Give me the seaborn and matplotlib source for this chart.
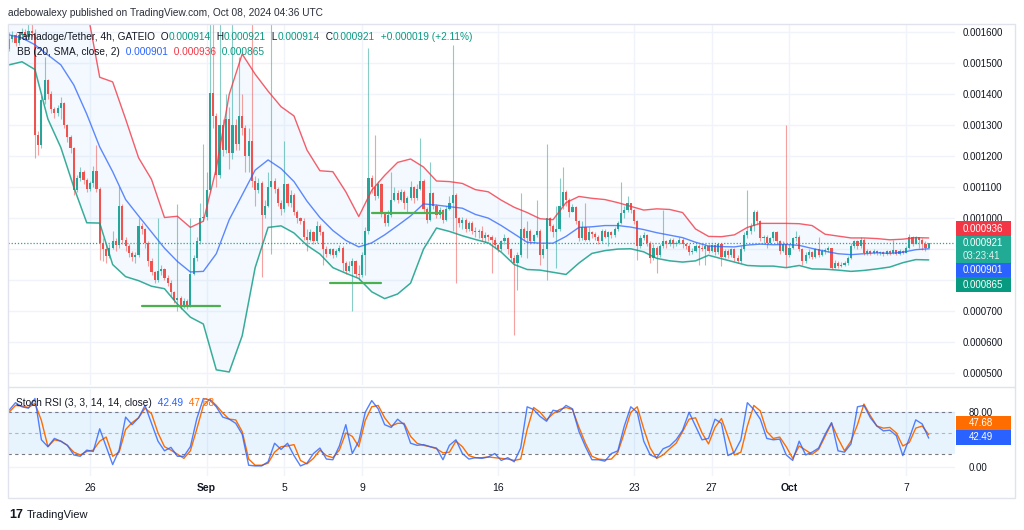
import numpy as np
import pandas as pd
import matplotlib
matplotlib.use("Agg")
import matplotlib.pyplot as plt
import matplotlib.dates as mdates
from matplotlib.patches import Rectangle
from matplotlib.lines import Line2D
from matplotlib.text import Annotation
import seaborn as sns

# Tamadoge/Tether 4h candles, prices in millionths of USDT (1e-6)
first_open = 1545
close = [
    1580, 1592, 1565, 1590, 1602, 1585, 1605, 1598, 1270, 1236,   # 0
    1380, 1445, 1400, 1352, 1338, 1356, 1372, 1300, 1262, 1225,   # 10
    1090, 1128, 1150, 1122, 1095, 1112, 1152, 1095, 920, 900,     # 20
    878, 905, 925, 912, 1040, 930, 910, 888, 876, 880,            # 30
    975, 965, 920, 860, 825, 800, 830, 835, 808, 790,             # 40
    760, 735, 742, 715, 732, 718, 820, 870, 925, 1000,            # 50
    1005, 1090, 1405, 1330, 1140, 1300, 1220, 1320, 1210, 1300,   # 60
    1240, 1330, 1290, 1200, 1250, 1120, 1090, 1115, 1010, 1040,   # 70
    1100, 1120, 1095, 1050, 1030, 1110, 1050, 1075, 1020, 1000,   # 80
    990, 940, 930, 955, 925, 975, 955, 900, 885, 900,             # 90
    880, 895, 905, 855, 830, 845, 860, 820, 815, 880,             # 100
    960, 1130, 1100, 1070, 1110, 1015, 985, 1010, 1060, 1080,     # 110
    1060, 1085, 1050, 1065, 1100, 1065, 1095, 1120, 1030, 995,    # 120
    1080, 1040, 1010, 1025, 995, 1030, 1050, 1075, 1000, 985,     # 130
    995, 965, 985, 960, 955, 960, 935, 945, 940, 930,             # 140
    912, 900, 925, 935, 900, 872, 855, 880, 965, 935,             # 150
    960, 925, 945, 960, 880, 900, 1000, 975, 955, 965,            # 160
    1040, 1085, 1060, 1020, 1035, 990, 935, 970, 930, 955,        # 170
    950, 940, 925, 960, 940, 955, 945, 965, 985, 1015,            # 180
    1025, 1048, 1025, 990, 910, 935, 945, 920, 870, 905,          # 190
    880, 910, 925, 915, 930, 915, 920, 930, 915, 910,             # 200
    890, 895, 910, 905, 900, 910, 895, 912, 890, 915,             # 210
    875, 895, 880, 900, 870, 862, 900, 945, 960, 975,             # 220
    1020, 990, 935, 940, 920, 935, 955, 925, 895, 915,            # 230
    880, 905, 935, 940, 900, 860, 880, 890, 875, 900,             # 240
    880, 893, 898, 902, 840, 855, 845, 850, 856, 870,             # 250
    910, 925, 910, 930, 888, 895, 888, 895, 886, 890,             # 260
    884, 893, 886, 896, 885, 895, 888, 905, 940, 918,             # 270
    938, 928, 915, 902, 921,                                      # 280
]
high = [
    1600, 1605, 1598, 1600, 1615, 1610, 1640, 1640, 1610, 1280,
    1395, 1520, 1450, 1410, 1360, 1365, 1390, 1375, 1305, 1270,
    1230, 1140, 1165, 1155, 1130, 1120, 1168, 1235, 1100, 935,
    915, 918, 960, 935, 1100, 1045, 940, 918, 895, 892,
    1002, 985, 968, 925, 870, 830, 1000, 850, 840, 815,
    800, 765, 1045, 748, 742, 738, 1000, 880, 940, 1050,
    1240, 1150, 1640, 1640, 1340, 1640, 1320, 1400, 1360, 1640,
    1320, 1520, 1400, 1300, 1290, 1640, 1135, 1130, 1120, 1060,
    1150, 1640, 1130, 1100, 1060, 1250, 1115, 1090, 1080, 1025,
    1005, 1000, 965, 965, 960, 990, 980, 960, 910, 905,
    905, 900, 912, 910, 860, 860, 870, 865, 850, 890,
    970, 1550, 1140, 1270, 1120, 1115, 1020, 1025, 1150, 1100,
    1090, 1095, 1090, 1070, 1120, 1105, 1110, 1260, 1125, 1035,
    1180, 1085, 1045, 1035, 1030, 1040, 1070, 1560, 1080, 1005,
    1005, 1000, 990, 990, 970, 965, 975, 955, 950, 945,
    940, 918, 930, 950, 940, 905, 880, 890, 1080, 970,
    990, 965, 950, 1060, 965, 915, 1240, 1005, 980, 1040,
    1128, 1166, 1090, 1065, 1045, 1040, 995, 990, 1050, 970,
    960, 955, 945, 965, 965, 960, 960, 970, 990, 1118,
    1040, 1070, 1050, 1030, 995, 945, 955, 950, 925, 915,
    910, 915, 1025, 930, 935, 935, 925, 938, 935, 920,
    915, 905, 915, 915, 915, 915, 915, 918, 915, 920,
    920, 900, 900, 905, 905, 880, 910, 955, 1090, 985,
    1025, 1025, 995, 945, 945, 940, 960, 960, 930, 925,
    1300, 915, 940, 960, 945, 905, 890, 900, 895, 905,
    940, 900, 905, 910, 905, 865, 860, 858, 862, 878,
    920, 930, 930, 940, 935, 900, 898, 900, 898, 895,
    893, 898, 896, 930, 898, 900, 898, 910, 950, 942,
    942, 940, 935, 925, 921,
]
low = [
    1540, 1570, 1555, 1560, 1585, 1575, 1580, 1585, 1195, 1205,
    1225, 1370, 1385, 1340, 1325, 1330, 1320, 1290, 1245, 1210,
    1075, 1085, 1120, 1110, 1085, 1088, 1100, 1085, 865, 860,
    855, 870, 900, 895, 905, 918, 895, 875, 860, 855,
    875, 950, 905, 845, 815, 790, 795, 815, 800, 780,
    750, 725, 700, 705, 710, 705, 712, 815, 860, 915,
    990, 995, 1085, 1290, 1100, 1130, 1200, 1210, 1160, 1190,
    1220, 1220, 1270, 1150, 1150, 1100, 1040, 1080, 810, 1000,
    1035, 885, 1080, 1040, 1010, 1020, 1040, 1035, 1010, 985,
    980, 930, 895, 925, 915, 920, 945, 850, 875, 880,
    870, 875, 890, 830, 820, 825, 700, 810, 800, 810,
    815, 950, 1080, 1060, 1065, 1005, 975, 975, 1005, 1055,
    1050, 1055, 1030, 1020, 1060, 1050, 1060, 1090, 1020, 985,
    990, 1030, 1000, 1000, 985, 990, 1025, 960, 790, 970,
    965, 955, 960, 950, 940, 935, 925, 920, 925, 822,
    905, 890, 895, 915, 885, 860, 622, 768, 875, 925,
    870, 915, 920, 940, 850, 870, 800, 960, 940, 840,
    960, 1030, 1040, 1005, 1020, 980, 925, 930, 925, 925,
    935, 930, 915, 920, 935, 910, 935, 940, 960, 980,
    1000, 1020, 1015, 980, 865, 905, 930, 910, 855, 865,
    822, 875, 905, 905, 910, 905, 910, 915, 905, 900,
    880, 885, 890, 848, 895, 850, 888, 890, 880, 885,
    845, 870, 870, 875, 860, 855, 855, 895, 935, 950,
    960, 980, 925, 920, 905, 915, 925, 915, 885, 890,
    843, 875, 900, 925, 895, 850, 855, 870, 868, 870,
    875, 878, 885, 890, 835, 838, 838, 842, 845, 850,
    868, 905, 900, 905, 880, 880, 882, 885, 880, 882,
    878, 880, 880, 883, 880, 882, 884, 886, 900, 910,
    915, 905, 898, 895, 900,
]

# Bollinger bands (20, SMA, close, 2), read every 4th candle
bb_step = 4
bb_upper = [1780, 1800, 1790, 1760, 1730, 1700, 1680, 1455, 1440, 1320,
            1195, 1125, 1002, 1006, 970, 990, 1160, 1400, 1530, 1465,
            1410, 1360, 1330, 1220, 1153, 1150, 1085, 1005, 1090, 1138,
            1180, 1191, 1165, 1120, 1118, 1112, 1092, 1085, 1058, 1035,
            1018, 998, 995, 1050, 1070, 1064, 1060, 1050, 1038, 1026,
            1030, 1028, 1018, 965, 941, 940, 946, 970, 983, 983,
            983, 982, 976, 948, 942, 936, 936, 934, 930, 932,
            937, 936]
bb_mid = [1592, 1582, 1560, 1527, 1495, 1430, 1336, 1230, 1150, 1060,
          1007, 955, 903, 860, 826, 828, 885, 995, 1075, 1155,
          1188, 1160, 1118, 1055, 1002, 960, 928, 907, 920, 946,
          976, 1007, 1046, 1042, 1037, 1032, 1012, 1000, 976, 949,
          922, 919, 919, 941, 970, 972, 976, 976, 971, 963,
          953, 945, 937, 922, 910, 908, 907, 913, 916, 914,
          915, 912, 902, 893, 885, 882, 885, 888, 886, 890,
          898, 901]
bb_lower = [1495, 1505, 1480, 1320, 1228, 1100, 985, 984, 850, 811,
            798, 780, 772, 722, 680, 658, 510, 503, 620, 840,
            970, 975, 952, 912, 884, 840, 822, 805, 762, 740,
            755, 790, 900, 968, 957, 943, 931, 920, 890, 850,
            834, 832, 825, 818, 855, 886, 895, 900, 901, 891,
            870, 862, 858, 862, 880, 869, 858, 847, 845, 845,
            840, 847, 836, 835, 832, 828, 831, 836, 842, 856,
            866, 865]

# Stoch RSI (3, 3, 14, 14, close), read every 2nd candle
st_step = 2
stoch_k = [83, 94, 88, 86, 100, 40, 30, 42, 38, 32,
           18, 16, 25, 23, 56, 30, 4, 25, 73, 62,
           72, 90, 64, 38, 24, 29, 16, 16, 30, 71,
           100, 98, 88, 73, 70, 64, 48, 3, 2, 2,
           8, 35, 26, 35, 17, 2, 6, 20, 28, 12,
           11, 31, 62, 20, 38, 80, 97, 85, 62, 58,
           70, 62, 35, 32, 33, 30, 28, 11, 32, 40,
           20, 12, 14, 13, 15, 20, 10, 14, 8, 28,
           88, 84, 74, 67, 83, 81, 90, 85, 52, 30,
           11, 11, 9, 20, 24, 60, 88, 80, 38, 18,
           14, 27, 31, 40, 54, 80, 60, 40, 42, 70,
           64, 17, 22, 40, 94, 84, 70, 42, 40, 41,
           18, 10, 38, 18, 22, 28, 48, 65, 24, 22,
           34, 88, 90, 72, 60, 53, 54, 46, 17, 42,
           69, 63, 42.49]
stoch_d = [80, 90, 89, 87, 93, 68, 30, 40, 38, 32,
           22, 18, 23, 25, 38, 44, 16, 22, 55, 65,
           72, 86, 78, 50, 30, 25, 19, 13, 24, 56,
           90, 99, 90, 79, 70, 69, 52, 12, 3, 3,
           6, 22, 30, 31, 33, 10, 5, 13, 25, 17,
           14, 25, 50, 45, 30, 68, 88, 90, 72, 60,
           64, 64, 45, 35, 32, 30, 27, 21, 22, 38,
           30, 17, 14, 14, 15, 14, 13, 12, 10, 12,
           55, 87, 80, 69, 78, 84, 87, 84, 58, 35,
           16, 12, 11, 12, 22, 50, 80, 88, 56, 28,
           13, 18, 27, 35, 52, 70, 72, 50, 34, 58,
           71, 45, 18, 22, 60, 90, 82, 52, 42, 44,
           30, 13, 31, 25, 19, 26, 45, 64, 42, 24,
           38, 62, 92, 75, 60, 57, 58, 50, 31, 36,
           57, 60, 47.68]

# hand-drawn support lines
sup_start = ["2024-08-28 16:00", "2024-09-07 08:00", "2024-09-09 12:00"]
sup_end = ["2024-09-01 16:00", "2024-09-10 00:00", "2024-09-13 04:00"]
sup_level = [715, 789, 1016]

tick_dates = ["2024-08-26", "2024-09-01", "2024-09-05", "2024-09-09", "2024-09-16",
              "2024-09-23", "2024-09-27", "2024-10-01", "2024-10-07"]
tick_labels = ["26", "Sep", "5", "9", "16", "23", "27", "Oct", "7"]
price_ticks = list(range(500, 1601, 100))
covered_ticks = [800, 900]  # hidden behind the price tags

UP, DOWN = "#26a69a", "#ef5350"
DARK = "#131722"
TEAL, RED, BLUE, ORANGE = "#089981", "#f23645", "#2962ff", "#ff6d00"

sns.set_theme(style="white")
plt.rcParams["font.family"] = ["Liberation Sans", "DejaVu Sans"]

W, H = 1024, 530
fig = plt.figure(figsize=(W / 100, H / 100), dpi=100)
fig.patch.set_facecolor("white")


def fx(px):
    return px / W


def fy(py):
    return 1 - py / H


ax = fig.add_axes([fx(8), fy(385), (955 - 8) / W, (385 - 24) / H])
ax2 = fig.add_axes([fx(8), fy(476), (955 - 8) / W, (476 - 389) / H])

close = np.array(close, float)
high = np.array(high, float)
low = np.array(low, float)
opens = np.r_[first_open, close[:-1]]
times = pd.date_range("2024-08-21 20:00", periods=len(close), freq="4h")
tnum = mdates.date2num(times)
x0 = mdates.date2num(pd.Timestamp("2024-08-26"))
xlim = (x0 - 4.22, x0 + 44.52)
ticks = mdates.date2num(pd.to_datetime(tick_dates))

# ---- price pane
bb = pd.DataFrame({"t": tnum[::bb_step], "upper": bb_upper, "mid": bb_mid, "lower": bb_lower})
ax.fill_between(bb["t"], bb["lower"], bb["upper"], color="#2196f3", alpha=0.05, lw=0, zorder=1)

up = close >= opens
cols = np.where(up, UP, DOWN)
ax.vlines(tnum, low, high, colors=cols, lw=0.8, alpha=0.55, zorder=2)
body_lo = np.minimum(opens, close)
body_h = np.maximum(np.abs(close - opens), 2.5)
ax.bar(tnum, body_h, bottom=body_lo, width=0.11, color=cols, lw=0, zorder=2.2)

sns.lineplot(data=bb, x="t", y="upper", ax=ax, color=RED, lw=1, alpha=0.8, zorder=3)
sns.lineplot(data=bb, x="t", y="mid", ax=ax, color=BLUE, lw=1, alpha=0.75, zorder=3)
sns.lineplot(data=bb, x="t", y="lower", ax=ax, color=TEAL, lw=1.1, alpha=0.8, zorder=3)

for s, e, lvl in zip(sup_start, sup_end, sup_level):
    ax.plot(mdates.date2num(pd.to_datetime([s, e])), [lvl, lvl], color="#4caf50", lw=1.6, zorder=4)

ax.axhline(close[-1], color=UP, lw=0.9, ls=(0, (1, 1.5)), zorder=3)

ax.set_xlim(xlim)
ax.set_ylim(461, 1627)
ax.set_xticks(ticks)
ax.set_yticks(price_ticks)
ax.set_yticklabels(["" if v in covered_ticks else f"{v / 1e6:.6f}" for v in price_ticks])
ax.yaxis.tick_right()
ax.tick_params(axis="y", length=0, pad=5.8, labelsize=7, labelcolor=DARK)
ax.tick_params(axis="x", length=0, labelbottom=False)
ax.grid(True, color="#f0f3fa", lw=1)
ax.set_axisbelow(True)
ax.set_xlabel("")
ax.set_ylabel("")
for sp in ax.spines.values():
    sp.set_visible(False)

# ---- stoch RSI pane
st = pd.DataFrame({"t": tnum[::st_step], "k": stoch_k, "d": stoch_d})
ax2.axhspan(20, 80, color="#2196f3", alpha=0.1, lw=0, zorder=1)
for lvl, a in [(80, 1), (50, 0.5), (20, 1)]:
    ax2.axhline(lvl, color="#787b86", lw=0.8, ls=(0, (3, 3)), alpha=a, zorder=2)
sns.lineplot(data=st, x="t", y="d", ax=ax2, color=ORANGE, lw=1, zorder=3)
sns.lineplot(data=st, x="t", y="k", ax=ax2, color=BLUE, lw=1, alpha=0.8, zorder=3)
ax2.set_xlim(xlim)
ax2.set_ylim(-12.65, 113.9)
ax2.set_yticks([0, 80])
ax2.set_yticklabels(["0.00", "80.00"])
ax2.yaxis.tick_right()
ax2.tick_params(axis="y", length=0, pad=9.5, labelsize=7, labelcolor=DARK)
ax2.set_xticks(ticks)
ax2.set_xticklabels(tick_labels)
ax2.tick_params(axis="x", length=0, pad=5, labelsize=7.5, labelcolor=DARK)
for lbl in ax2.get_xticklabels():
    if lbl.get_text() in ("Sep", "Oct"):
        lbl.set_fontweight("bold")
ax2.grid(True, color="#f0f3fa", lw=1)
ax2.set_axisbelow(True)
ax2.set_xlabel("")
ax2.set_ylabel("")
for sp in ax2.spines.values():
    sp.set_visible(False)

# ---- frame
fig.add_artist(Rectangle((fx(8), fy(498)), 1007 / W, 474 / H, fill=False,
                         ec="#e0e3eb", lw=1, transform=fig.transFigure))
fig.add_artist(Line2D([fx(8), fx(1015)], [fy(386.5), fy(386.5)], color="#e0e3eb", lw=1,
                      transform=fig.transFigure))


def chain(x_px, y_px, parts, size):
    # write coloured pieces one after another on one line, on top of the panes
    prev = fig.text(fx(x_px), fy(y_px), parts[0][0], color=parts[0][1], fontsize=size,
                    ha="left", va="center", zorder=8)
    for s, c in parts[1:]:
        prev = fig.add_artist(Annotation(s, xy=(1, 0), xycoords=prev, color=c, fontsize=size,
                                         ha="left", va="bottom", annotation_clip=False))
        prev.set_zorder(8)


fig.text(fx(8), fy(13), "adebowalexy published on TradingView.com, Oct 08, 2024 04:36 UTC",
         fontsize=7.3, color="#2a2e39", ha="left", va="center")

chain(17, 37, [("Tamadoge/Tether, 4h, GATEIO", DARK), ("  O", DARK), ("0.000914", TEAL),
               ("  H", DARK), ("0.000921", TEAL), ("  L", DARK), ("0.000914", TEAL),
               ("  C", DARK), ("0.000921", TEAL), ("  +0.000019 (+2.11%)", TEAL)], 7.3)
chain(17, 52, [("BB (20, SMA, close, 2)", DARK), (f"  {bb_mid[-1] / 1e6:.6f}", BLUE),
               (f"  {bb_upper[-1] / 1e6:.6f}", RED), (f"  {bb_lower[-1] / 1e6:.6f}", TEAL)], 7.3)
chain(16, 403, [("Stoch RSI (3, 3, 14, 14, close)", DARK), (f"  {stoch_k[-1]:.2f}", BLUE),
                (f"  {stoch_d[-1]:.2f}", ORANGE)], 7.3)


def tag(top, bottom, color, lines, x_text=963):
    fig.add_artist(Rectangle((fx(956), fy(bottom)), 55 / W, (bottom - top) / H,
                             fc=color, ec="none", transform=fig.transFigure, zorder=5))
    step = (bottom - top) / len(lines)
    for j, (s, c) in enumerate(lines):
        fig.text(fx(x_text), fy(top + step * (j + 0.5)), s, color=c, fontsize=7,
                 ha="left", va="center", zorder=6)


tag(221, 236, RED, [(f"{bb_upper[-1] / 1e6:.6f}", "white")])
tag(236, 263, "#22ab94", [(f"{close[-1] / 1e6:.6f}", "white"), ("03:23:41", "#e0f2ef")])
tag(263, 277, BLUE, [(f"{bb_mid[-1] / 1e6:.6f}", "white")])
tag(277, 292, TEAL, [(f"{bb_lower[-1] / 1e6:.6f}", "white")])
tag(416, 430, ORANGE, [(f"{stoch_d[-1]:.2f}", "white")], x_text=969)
tag(430, 445, BLUE, [(f"{stoch_k[-1]:.2f}", "white")], x_text=969)

# TradingView mark
fig.text(fx(9), fy(515), "17", fontsize=9, fontweight="bold", color=DARK, ha="left", va="center")
fig.text(fx(27), fy(515), "TradingView", fontsize=8, color=DARK, ha="left", va="center")

fig.savefig("out.png", dpi=100, facecolor="white")
